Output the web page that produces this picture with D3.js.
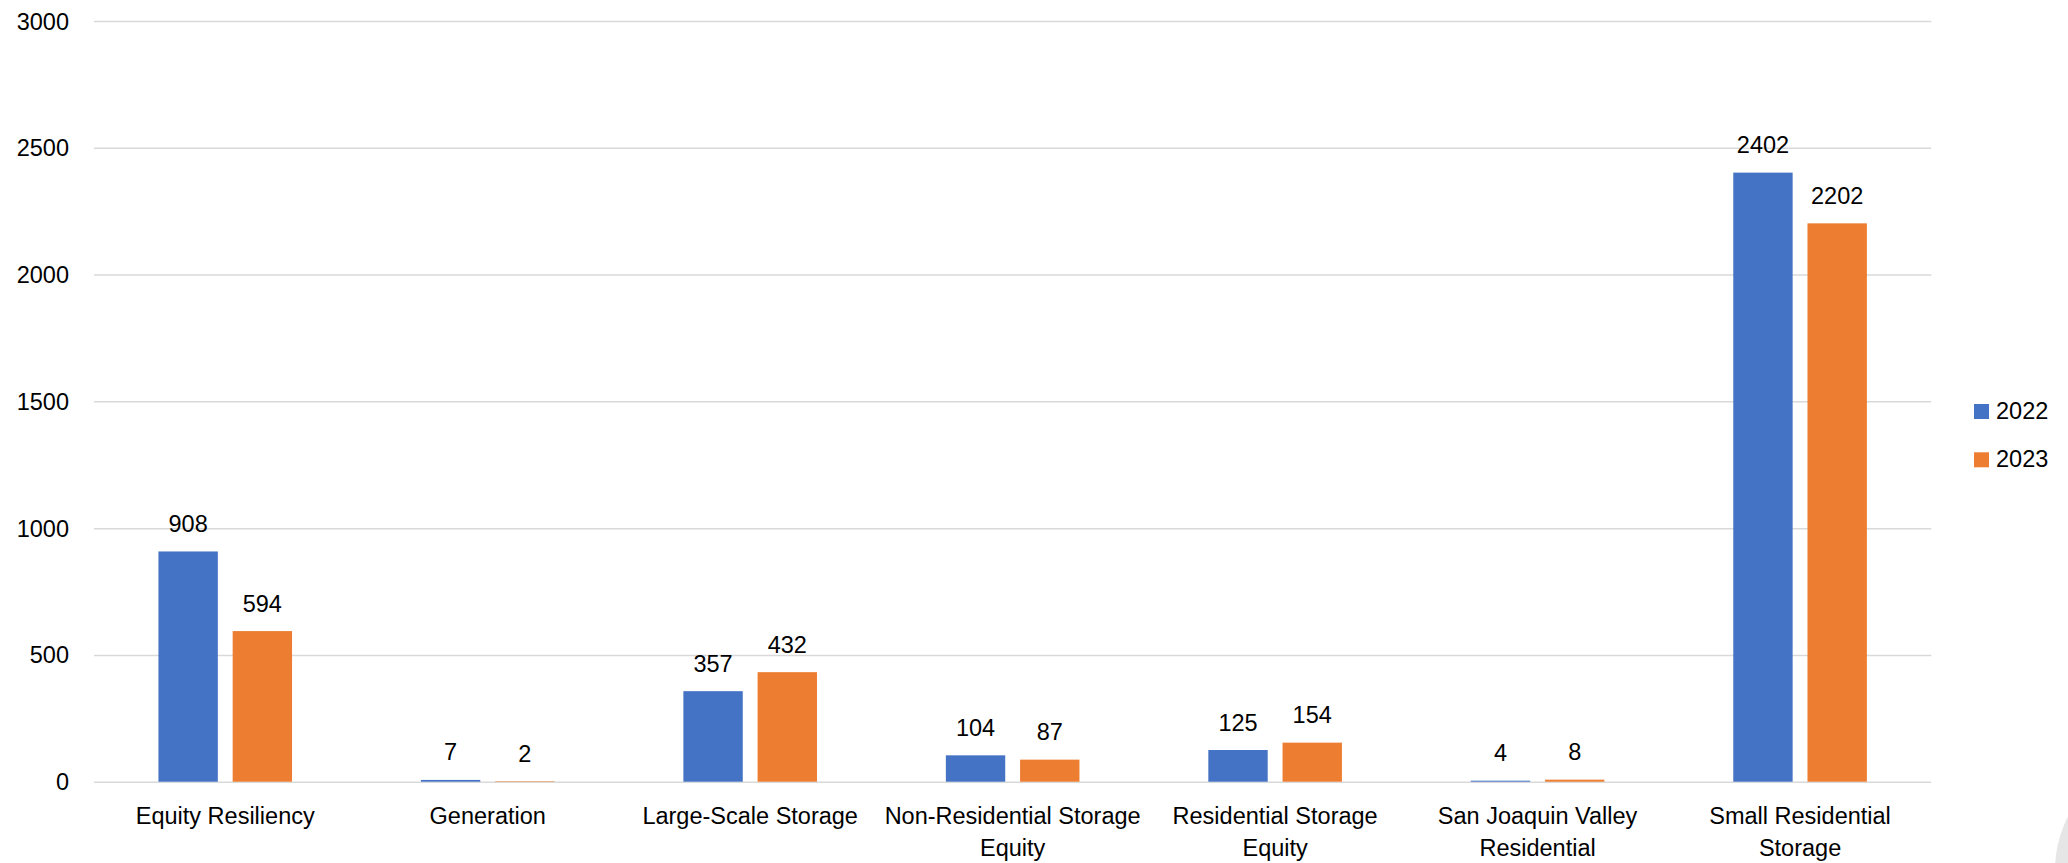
<!DOCTYPE html>
<html>
<head>
<meta charset="utf-8">
<script src="https://cdn.jsdelivr.net/npm/d3@7"></script>
<style>
  html, body { margin: 0; padding: 0; background: #ffffff; }
  svg { display: block; }
  text { font-family: "Liberation Sans", Arial, sans-serif; fill: #000000; }
</style>
</head>
<body>
<svg id="chart" width="2068" height="863"></svg>
<script>
const categories = [
  "Equity Resiliency",
  "Generation",
  "Large-Scale Storage",
  "Non-Residential Storage Equity",
  "Residential Storage Equity",
  "San Joaquin Valley Residential",
  "Small Residential Storage"
];
const seriesNames = ["2022", "2023"];
const values2022 = [908, 7, 357, 104, 125, 4, 2402];
const values2023 = [594, 2, 432, 87, 154, 8, 2202];
const yTicks = [0, 500, 1000, 1500, 2000, 2500, 3000];
const colors = ["#4472C4", "#ED7D31"];

const seriesValues = [values2022, values2023];
const svg = d3.select("#chart");
const W = 2068, H = 863;
const margin = { left: 94, right: W - 1931.3, top: 21, bottom: H - 781.7 };
const fontSize = 23.5;

const x0 = d3.scaleBand().domain(categories).range([margin.left, W - margin.right]).padding(0);
const groupW = x0.bandwidth() * 0.509;
const x1 = d3.scaleBand().domain(seriesNames).range([0, groupW]).paddingInner(0.2).paddingOuter(0);
const y = d3.scaleLinear().domain([0, 3000]).range([H - margin.bottom, margin.top]);

// background circle artifact (bottom right)
svg.append("circle").attr("cx", 2172).attr("cy", 870).attr("r", 117).attr("fill", "#e6e6e6");

// gridlines
const yAxis = d3.axisLeft(y).tickValues(yTicks).tickSize(-(W - margin.left - margin.right)).tickPadding(25).tickFormat(d3.format("d"));
const gAxis = svg.append("g").attr("transform", `translate(${margin.left},0)`).call(yAxis);
gAxis.select(".domain").remove();
gAxis.selectAll(".tick line").attr("stroke", "#d9d9d9").attr("stroke-width", 1.5);
gAxis.selectAll(".tick text")
  .attr("font-size", fontSize)
  .attr("font-family", "'Liberation Sans', Arial, sans-serif")
  .attr("fill", "#000")
  .attr("dy", null)
  .attr("dominant-baseline", "central");

// bars
const groups = svg.append("g").selectAll("g")
  .data(categories)
  .join("g")
  .attr("transform", d => `translate(${x0(d) + (x0.bandwidth() - groupW) / 2},0)`);

groups.each(function(cat, ci) {
  const g = d3.select(this);
  seriesNames.forEach((s, si) => {
    const v = seriesValues[si][ci];
    g.append("rect")
      .attr("x", x1(s))
      .attr("y", y(v))
      .attr("width", x1.bandwidth())
      .attr("height", y(0) - y(v))
      .attr("fill", colors[si]);
    g.append("text")
      .attr("x", x1(s) + x1.bandwidth() / 2)
      .attr("y", y(v) - 19.5)
      .attr("text-anchor", "middle")
      .attr("font-size", fontSize)
      .text(v);
  });
});

// category labels with wrapping
const maxW = x0.bandwidth();
const catG = svg.append("g");
categories.forEach(cat => {
  const cx = x0(cat) + x0.bandwidth() / 2;
  const t = catG.append("text")
    .attr("x", cx)
    .attr("y", 824)
    .attr("text-anchor", "middle")
    .attr("font-size", fontSize);
  const words = cat.split(" ");
  let lines = [];
  let line = [];
  const probe = catG.append("text").attr("font-size", fontSize).attr("visibility", "hidden");
  words.forEach(w => {
    const test = line.concat([w]).join(" ");
    probe.text(test);
    if (probe.node().getComputedTextLength() > maxW && line.length) {
      lines.push(line.join(" "));
      line = [w];
    } else {
      line.push(w);
    }
  });
  lines.push(line.join(" "));
  probe.remove();
  lines.forEach((l, i) => {
    t.append("tspan").attr("x", cx).attr("y", 824 + i * 32).text(l);
  });
});

// legend
const legend = svg.append("g");
seriesNames.forEach((s, i) => {
  const ly = 404 + i * 48.3;
  legend.append("rect").attr("x", 1974).attr("y", ly).attr("width", 15).attr("height", 15).attr("fill", colors[i]);
  legend.append("text").attr("x", 1996).attr("y", ly + 15).attr("font-size", fontSize).text(s);
});
</script>
</body>
</html>
